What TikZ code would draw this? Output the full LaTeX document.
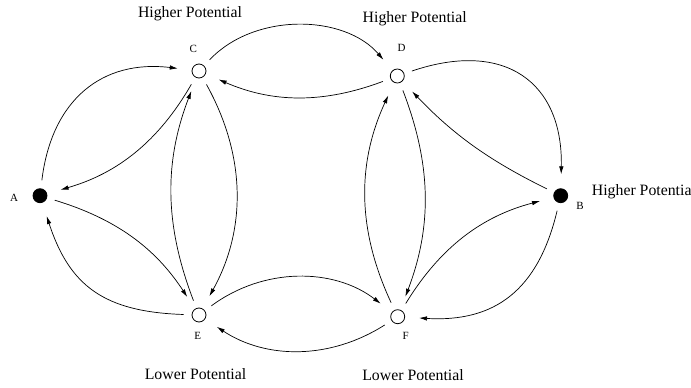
\documentclass[tikz,border=0pt]{standalone}
\usepackage{fontspec}
\setmainfont{Liberation Serif}
\usetikzlibrary{arrows.meta}

\begin{document}
\begin{tikzpicture}[
  x=1pt, y=-1pt,
  vtx/.style={
    circle,
    draw,
    line width=0.8pt,
    minimum size=14pt,
    inner sep=0pt
  },
  src/.style={
    vtx,
    fill=black
  },
  edge/.style={
    -{Latex[length=8pt,width=4.5pt]},
    line width=0.7pt,
    shorten <=8pt,
    shorten >=14pt
  },
  tag/.style={
    inner sep=0pt,
    font=\fontsize{11}{13}\selectfont
  },
  level/.style={
    inner sep=0pt,
    anchor=base,
    font=\fontsize{15.8}{18}\selectfont
  }
]

\path[use as bounding box] (0,0) rectangle (691,388);

\node[src] (A) at (40,195.7) {};
\node[src] (B) at (560.7,195.7) {};
\node[vtx] (C) at (199,71) {};
\node[vtx] (D) at (397.3,76) {};
\node[vtx] (E) at (199,315) {};
\node[vtx] (F) at (397.7,316.7) {};

\node[tag] (tA) at (14,197.7) {A};
\node[tag] (tB) at (580,206) {B};
\node[tag] (tC) at (193.3,49.3) {C};
\node[tag] (tD) at (401.7,48.3) {D};
\node[tag] (tE) at (197.7,336) {E};
\node[tag] (tF) at (405.7,335.7) {F};

\node[level] (hC) at (190,17.3) {Higher Potential};
\node[level] (hD) at (414.7,22.7) {Higher Potential};
\node[level, anchor=base west] (hB) at (591.7,195.7) {Higher Potentia};
\node[level] (lE) at (195.5,379.3) {Lower Potential};
\node[level] (lF) at (413,380) {Lower Potential};

\draw[edge] (A) to[bend left=45, looseness=1.2] (C);
\draw[edge] (C) to[bend left=22] (A);
\draw[edge] (A) to[bend left=20] (E);
\draw[edge] (E) to[bend left=35, looseness=1.2] (A);

\draw[edge] (C) to[bend left=29] (E);
\draw[edge] (E) to[bend left=21] (C);
\draw[edge] (C) to[bend left=48] (D);
\draw[edge] (D) to[bend left=22] (C);

\draw[edge] (D) to[bend left=55, looseness=1.4] (B);
\draw[edge] (B) to[bend left=10] (D);
\draw[edge] (B) to[bend left=40, looseness=1.2] (F);
\draw[edge] (F) to[bend left=22] (B);

\draw[edge] (D) to[bend left=21] (F);
\draw[edge] (F) to[bend left=25] (D);
\draw[edge] (E) to[bend left=37] (F);
\draw[edge] (F) to[bend left=33] (E);

\end{tikzpicture}
\end{document}
